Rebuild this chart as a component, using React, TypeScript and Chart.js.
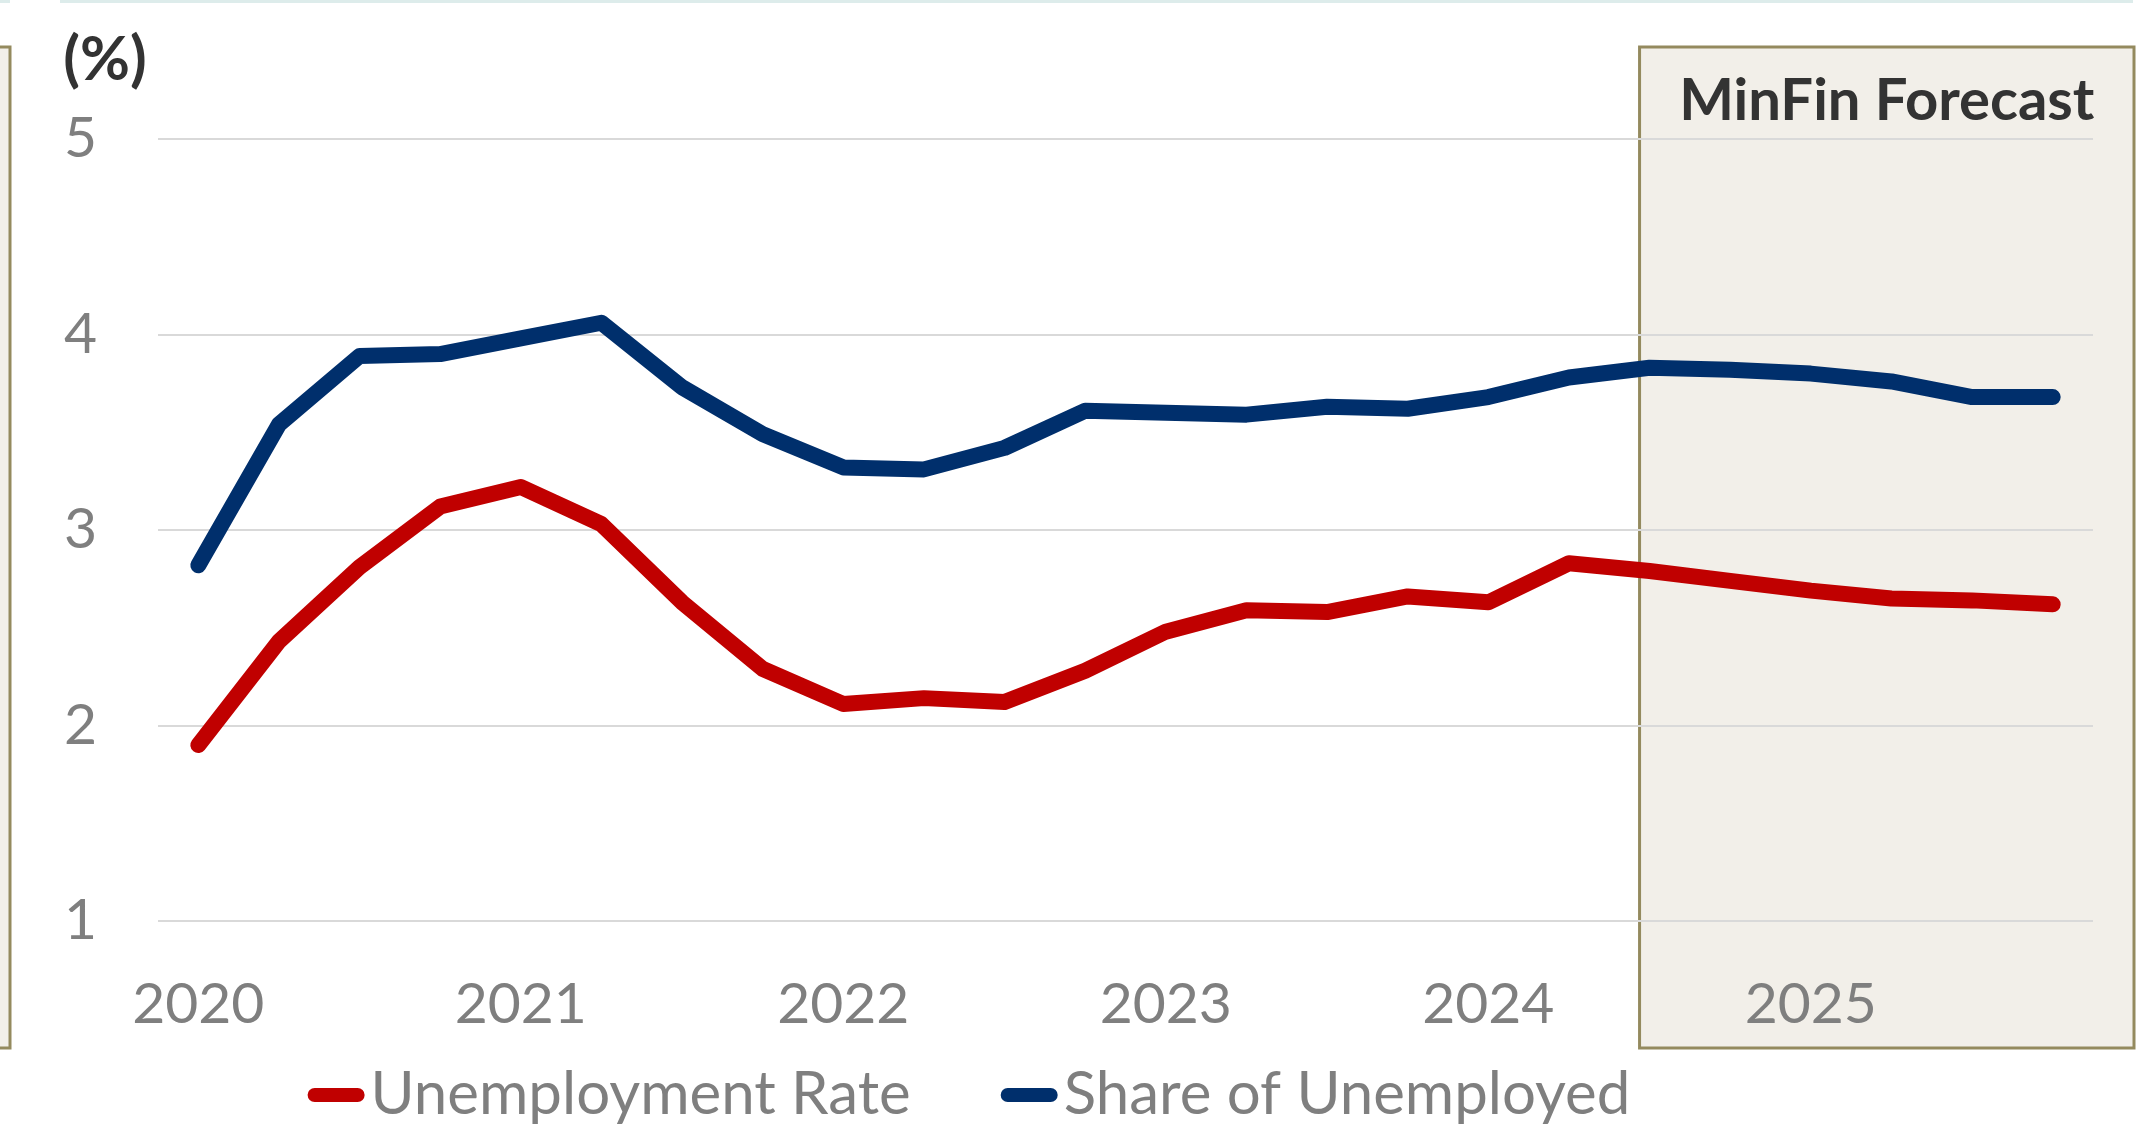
import React, { useEffect, useRef } from 'react';
import { Chart, registerables } from 'chart.js';

Chart.register(...registerables);

const quarters = [
  '2020 Q1', '2020 Q2', '2020 Q3', '2020 Q4',
  '2021 Q1', '2021 Q2', '2021 Q3', '2021 Q4',
  '2022 Q1', '2022 Q2', '2022 Q3', '2022 Q4',
  '2023 Q1', '2023 Q2', '2023 Q3', '2023 Q4',
  '2024 Q1', '2024 Q2', '2024 Q3', '2024 Q4',
  '2025 Q1', '2025 Q2', '2025 Q3', '2025 Q4',
];
const yearTickLabels = ['2020', '2021', '2022', '2023', '2024', '2025'];
const unemploymentRate = [
  1.90, 2.43, 2.81, 3.12, 3.22, 3.03, 2.63, 2.29,
  2.11, 2.14, 2.12, 2.28, 2.48, 2.59, 2.58, 2.66,
  2.63, 2.83, 2.79, 2.74, 2.69, 2.65, 2.64, 2.62,
];
const shareOfUnemployed = [
  2.82, 3.54, 3.89, 3.90, 3.98, 4.06, 3.73, 3.49,
  3.32, 3.31, 3.42, 3.61, 3.60, 3.59, 3.63, 3.62,
  3.68, 3.78, 3.83, 3.82, 3.80, 3.76, 3.68, 3.68,
];
const seriesNames = ['Unemployment Rate', 'Share of Unemployed'];
const seriesColors = ['#C00000', '#002F6C'];
const yMin = 1;
const yMax = 5;
const forecastStartIndex = 18;
const forecastLabel = 'MinFin Forecast';
const unitLabel = '(%)';

const FONT = 'Lato, Roboto, sans-serif';
const GREY = '#7F7F7F';
const DARK = '#333333';
const TICK_SIZE = 57;
const LEGEND_SIZE = 60;

const decorPlugin = {
  id: 'decor',
  beforeDraw(chart: any) {
    const { ctx, chartArea, scales } = chart;
    const x = scales.x;
    ctx.save();
    // faint top rule
    ctx.fillStyle = '#DDECEB';
    ctx.fillRect(0, 0, 10, 3);
    ctx.fillRect(60, 0, 2073, 3);
    // forecast panel
    const top = chartArea.top - 92;
    const bottom = chartArea.bottom + 127;
    const left = x.getPixelForValue(forecastStartIndex) - 10;
    const right = chartArea.right + 41;
    ctx.fillStyle = '#F2EFE9';
    ctx.strokeStyle = '#948A5E';
    ctx.lineWidth = 3;
    ctx.fillRect(left, top, right - left, bottom - top);
    ctx.strokeRect(left, top, right - left, bottom - top);
    // partial panel at far left edge
    ctx.fillRect(-20, top, 30, bottom - top);
    ctx.strokeRect(-20, top, 30, bottom - top);
    ctx.restore();
  },
  afterDraw(chart: any) {
    const { ctx, chartArea, scales } = chart;
    const x = scales.x;
    ctx.save();
    // forecast title
    const left = x.getPixelForValue(forecastStartIndex) - 10;
    const right = chartArea.right + 41;
    ctx.fillStyle = DARK;
    ctx.font = `bold 58px ${FONT}`;
    ctx.textAlign = 'center';
    ctx.textBaseline = 'middle';
    ctx.fillText(forecastLabel, (left + right) / 2, chartArea.top - 38);
    // unit label
    ctx.font = `bold 61px ${FONT}`;
    ctx.fillText(unitLabel, 105, chartArea.top - 79);
    // legend
    ctx.font = `${LEGEND_SIZE}px ${FONT}`;
    const swatch = 57;
    const gapText = 6;
    const gapItem = 90;
    const widths = seriesNames.map((n) => ctx.measureText(n).width);
    const total = widths.reduce((a, w) => a + swatch + gapText + w, 0) + gapItem * (seriesNames.length - 1);
    let cx = 969 - total / 2;
    const ly = chartArea.bottom + 174;
    seriesNames.forEach((name, i) => {
      ctx.strokeStyle = seriesColors[i];
      ctx.lineWidth = 14;
      ctx.lineCap = 'round';
      ctx.beginPath();
      ctx.moveTo(cx + 7, ly);
      ctx.lineTo(cx + swatch - 7, ly);
      ctx.stroke();
      ctx.fillStyle = GREY;
      ctx.textAlign = 'left';
      ctx.textBaseline = 'middle';
      ctx.fillText(name, cx + swatch + gapText, ly);
      cx += swatch + gapText + widths[i] + gapItem;
    });
    ctx.restore();
  },
};

export default function App() {
  const ref = useRef<HTMLCanvasElement>(null);
  useEffect(() => {
    const canvas = ref.current!;
    const chart = new Chart(canvas, {
      type: 'line',
      data: {
        labels: quarters,
        datasets: [
          {
            label: seriesNames[0],
            data: unemploymentRate,
            borderColor: seriesColors[0],
            backgroundColor: seriesColors[0],
            borderWidth: 16,
            borderCapStyle: 'round',
            borderJoinStyle: 'round',
            pointRadius: 0,
            tension: 0,
          },
          {
            label: seriesNames[1],
            data: shareOfUnemployed,
            borderColor: seriesColors[1],
            backgroundColor: seriesColors[1],
            borderWidth: 16,
            borderCapStyle: 'round',
            borderJoinStyle: 'round',
            pointRadius: 0,
            tension: 0,
          },
        ],
      },
      options: {
        responsive: false,
        animation: false,
        layout: { padding: { left: 8, right: 59, top: 139, bottom: 0 } },
        plugins: {
          legend: { display: false },
          tooltip: { enabled: false },
        },
        scales: {
          x: {
            offset: true,
            grid: { display: false, drawTicks: false },
            border: { display: false },
            ticks: {
              autoSkip: false,
              maxRotation: 0,
              minRotation: 0,
              padding: 49,
              color: GREY,
              font: { family: FONT, size: TICK_SIZE },
              callback: (_v: any, index: number) => (index % 4 === 0 ? yearTickLabels[index / 4] : ''),
            },
            afterFit: (s: any) => { s.height = 204; },
          },
          y: {
            min: yMin,
            max: yMax,
            grid: { color: '#D9D9D9', lineWidth: 2, drawTicks: false },
            border: { display: false },
            ticks: {
              stepSize: 1,
              padding: 61,
              color: GREY,
              font: { family: FONT, size: TICK_SIZE },
            },
            afterFit: (s: any) => { s.width = 150; },
          },
        },
      },
      plugins: [decorPlugin],
    } as any);
    return () => chart.destroy();
  }, []);
  return (
    <div style={{ position: 'fixed', left: 0, top: 0, width: 2152, height: 1125 }}>
      <canvas ref={ref} width={2152} height={1125} />
    </div>
  );
}
